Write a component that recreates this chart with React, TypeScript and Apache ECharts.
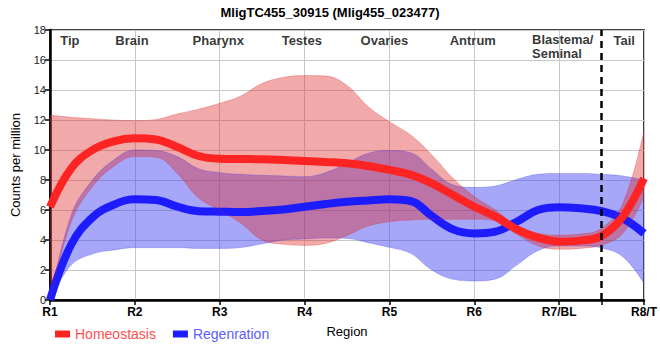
import React, { useEffect, useRef } from "react";
import * as echarts from "echarts";

// Region categories on the x axis (positions 0..7)
const categories = ["R1", "R2", "R3", "R4", "R5", "R6", "R7/BL", "R8/T"];

// Sample positions along the x axis (in region units)
const positions = [
  0, 0.25, 0.5, 0.75, 1, 1.25, 1.5, 1.75, 2, 2.25, 2.5, 2.75, 3, 3.25, 3.5,
  3.75, 4, 4.25, 4.5, 4.75, 5, 5.25, 5.5, 5.75, 6, 6.25, 6.5, 6.75, 7,
];

// Homeostasis: fitted mean and band
const homMean = [
  6.2, 8.78, 10.0, 10.58, 10.78, 10.7, 10.2, 9.6, 9.42, 9.4, 9.38, 9.33, 9.27,
  9.2, 9.12, 8.93, 8.67, 8.36, 7.78, 7.0, 6.22, 5.56, 4.71, 4.16, 3.89, 3.96,
  4.27, 5.56, 8.11,
];
const homHi = [
  12.33, 12.18, 12.09, 12.0, 11.96, 12.04, 12.4, 12.72, 13.11, 13.6, 14.44,
  14.84, 14.96, 14.93, 14.3, 12.89, 11.89, 11.0, 9.67, 8.11, 6.9, 6.0, 4.93,
  4.44, 4.33, 4.4, 4.78, 6.44, 11.3,
];
const homLo = [
  0, 5.2, 7.55, 8.9, 9.56, 9.51, 8.44, 6.8, 6.0, 5.11, 4.0, 3.71, 3.64, 3.78,
  4.3, 4.93, 5.22, 5.33, 5.38, 5.38, 5.38, 5.29, 4.38, 3.62, 3.38, 3.44, 3.67,
  4.44, 6.89,
];

// Regeneration: fitted mean and band
const regMean = [
  0, 3.7, 5.5, 6.35, 6.71, 6.67, 6.22, 5.92, 5.89, 5.87, 5.93, 6.04, 6.22, 6.4,
  6.55, 6.64, 6.71, 6.6, 5.6, 4.71, 4.44, 4.56, 5.22, 6.0, 6.18, 6.11, 5.93,
  5.44, 4.44,
];
const regHi = [
  0, 5.67, 8.0, 9.33, 10.0, 9.96, 9.56, 8.75, 8.49, 8.38, 8.31, 8.27, 8.22,
  8.5, 9.11, 9.78, 9.96, 9.82, 8.71, 7.67, 7.51, 7.6, 8.04, 8.38, 8.44, 8.44,
  8.38, 8.27, 8.0,
];
const regLo = [
  0, 2.33, 3.07, 3.33, 3.49, 3.49, 3.49, 3.44, 3.44, 3.5, 3.75, 4.0, 4.07,
  4.13, 4.1, 3.82, 3.51, 3.11, 2.0, 1.38, 1.27, 1.4, 2.33, 3.29, 3.6, 3.6,
  3.47, 2.89, 1.11,
];

// Region annotations at the top of the plot
const regionNames = [
  "Tip",
  "Brain",
  "Pharynx",
  "Testes",
  "Ovaries",
  "Antrum",
  "Blastema/\nSeminal",
  "Tail",
];
const regionX = [0.12, 0.77, 1.68, 2.73, 3.66, 4.71, 5.68, 6.64];
const regionY = [17.33, 17.33, 17.33, 17.33, 17.33, 17.33, 16.87, 17.33];

// Boundary between Blastema/Seminal and Tail
const boundaryX = 6.5;

const SAMPLES_PER_REGION = 4;
const boundaryIndex = positions.indexOf(boundaryX);
const isRegionTick = (i: number) => i % SAMPLES_PER_REGION === 0;
const span = (hi: number[], lo: number[]) =>
  hi.map((h, i) => +(h - lo[i]).toFixed(3));

const RED_FILL = "rgba(220,40,40,0.4)";
const BLUE_FILL = "rgba(60,60,245,0.45)";

export default function App() {
  const ref = useRef<HTMLDivElement>(null);

  useEffect(() => {
    if (!ref.current) return;
    const chart = echarts.init(ref.current, undefined, { renderer: "svg" });
    const option: any = {
      animation: false,
      textStyle: { fontFamily: '"Liberation Sans", Arial, sans-serif' },
      title: {
        text: "MligTC455_30915 (Mlig455_023477)",
        left: "center",
        top: 1,
        textStyle: { fontSize: 13, fontWeight: "bold", color: "#000" },
      },
      grid: {
        left: 50,
        right: 10,
        top: 30,
        bottom: 60,
        show: true,
        borderColor: "#000",
        borderWidth: 1.5,
      },
      legend: {
        left: 50,
        top: 322,
        icon: "rect",
        itemWidth: 15,
        itemHeight: 7,
        itemGap: 17,
        selectedMode: false,
        textStyle: { fontSize: 14 },
        data: [
          { name: "Homeostasis", textStyle: { color: "#ff5050" } },
          { name: "Regenration", textStyle: { color: "#5c5cff" } },
        ],
      },
      xAxis: [
        {
          type: "category",
          boundaryGap: false,
          data: positions.map(String),
          name: "Region",
          nameLocation: "middle",
          nameGap: 25,
          nameTextStyle: { fontSize: 13, color: "#000" },
          axisLine: { lineStyle: { color: "#000", width: 2.5 } },
          axisTick: {
            show: true,
            length: 5,
            interval: (i: number) => isRegionTick(i) || i === boundaryIndex,
            lineStyle: { color: "#000", width: 1.5 },
          },
          axisLabel: {
            interval: (i: number) => isRegionTick(i),
            formatter: (_v: string, i: number) =>
              categories[i / SAMPLES_PER_REGION] ?? "",
            fontSize: 12,
            fontWeight: "bold",
            color: "#000",
            margin: 6,
          },
          splitLine: {
            show: true,
            interval: (i: number) => isRegionTick(i),
            lineStyle: { color: "#c8c8c8", width: 1 },
          },
        },
        {
          type: "value",
          min: 0,
          max: 7,
          show: false,
        },
      ],
      yAxis: {
        type: "value",
        min: 0,
        max: 18,
        interval: 2,
        name: "Counts per million",
        nameLocation: "middle",
        nameGap: 28,
        nameTextStyle: { fontSize: 13, color: "#000" },
        axisLine: { show: true, lineStyle: { color: "#000", width: 2.5 } },
        axisTick: { show: true, length: 5, lineStyle: { color: "#000", width: 1.5 } },
        axisLabel: { fontSize: 11, color: "#222", margin: 4 },
        splitLine: { show: true, lineStyle: { color: "#c8c8c8", width: 1 } },
      },
      series: [
        {
          name: "regLo",
          type: "line",
          data: regLo,
          stack: "reg",
          smooth: 0.4,
          symbol: "none",
          silent: true,
          lineStyle: { width: 0.8, color: "rgba(60,60,245,0.35)" },
        },
        {
          name: "regBand",
          type: "line",
          data: span(regHi, regLo),
          stack: "reg",
          smooth: 0.4,
          symbol: "none",
          silent: true,
          lineStyle: { width: 0.8, color: "rgba(60,60,245,0.35)" },
          areaStyle: { color: BLUE_FILL, opacity: 1 },
        },
        {
          name: "Regenration",
          type: "line",
          data: regMean,
          smooth: 0.4,
          symbol: "none",
          itemStyle: { color: "#1c1cff" },
          lineStyle: { width: 8, color: "#1c1cff" },
        },
        {
          name: "homLo",
          type: "line",
          data: homLo,
          stack: "hom",
          smooth: 0.4,
          symbol: "none",
          silent: true,
          lineStyle: { width: 0.8, color: "rgba(220,40,40,0.35)" },
        },
        {
          name: "homBand",
          type: "line",
          data: span(homHi, homLo),
          stack: "hom",
          smooth: 0.4,
          symbol: "none",
          silent: true,
          lineStyle: { width: 0.8, color: "rgba(220,40,40,0.35)" },
          areaStyle: { color: RED_FILL, opacity: 1 },
        },
        {
          name: "Homeostasis",
          type: "line",
          data: homMean,
          smooth: 0.4,
          symbol: "none",
          itemStyle: { color: "#ff2424" },
          lineStyle: { width: 8, color: "#ff2424" },
          markLine: {
            silent: true,
            symbol: "none",
            label: { show: false },
            lineStyle: { color: "#000", width: 2.5, type: [7, 5] },
            data: [{ xAxis: boundaryIndex }],
          },
        },
        {
          name: "regions",
          type: "scatter",
          xAxisIndex: 1,
          symbolSize: 0,
          silent: true,
          clip: false,
          data: regionNames.map((n, i) => ({ name: n, value: [regionX[i], regionY[i]] })),
          label: {
            show: true,
            formatter: "{b}",
            position: "right",
            distance: 0,
            align: "left",
            fontSize: 13,
            fontWeight: "bold",
            color: "#000",
            lineHeight: 14,
          },
        },
      ],
    };
    chart.setOption(option);
    return () => chart.dispose();
  }, []);

  return (
    <div
      ref={ref}
      style={{ position: "fixed", left: 0, top: 0, width: 660, height: 360, background: "#fff" }}
    />
  );
}
